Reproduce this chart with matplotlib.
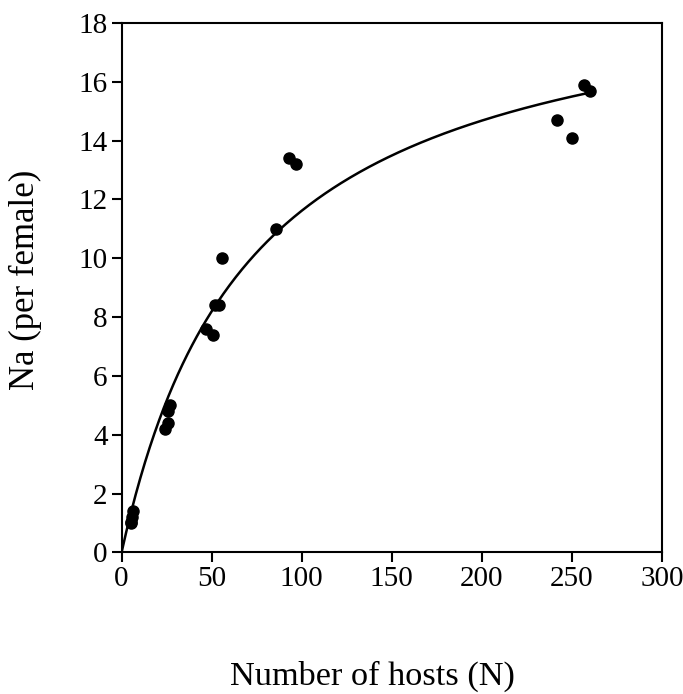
import matplotlib
matplotlib.use('Agg')
import matplotlib.pyplot as plt
import numpy as np

# data
hosts = [5, 5.5, 6, 6.5, 24, 26, 26, 27, 47, 51, 52, 54, 56, 86, 93, 97, 242, 250, 257, 260]
attacked = [1.0, 1.05, 1.2, 1.4, 4.2, 4.4, 4.8, 5.0, 7.6, 7.4, 8.4, 8.4, 10.0, 11.0, 13.4, 13.2, 14.7, 14.1, 15.9, 15.7]

# fitted type II functional response: Na = A*N / (K + N)
A = 19.94
K = 71.7

xticks = [0, 50, 100, 150, 200, 250, 300]
yticks = [0, 2, 4, 6, 8, 10, 12, 14, 16, 18]

plt.rcParams['font.family'] = ['Liberation Serif', 'DejaVu Serif']

fig = plt.figure(figsize=(6.83, 6.94), dpi=100)
ax = fig.add_axes([0.178, 0.204, 0.791, 0.763])

n = np.linspace(0, max(hosts), 300)
ax.plot(n, A * n / (K + n), color='black', lw=1.8)
ax.scatter(hosts, attacked, s=64, color='black', zorder=3)

ax.set_xlim(0, 300)
ax.set_ylim(0, 18)
ax.set_xticks(xticks)
ax.set_yticks(yticks)
ax.tick_params(direction='out', length=7, width=1.5, labelsize=21, pad=3,
               top=False, right=False)
for s in ax.spines.values():
    s.set_linewidth(1.5)

ax.set_xlabel('Number of hosts (N)', fontsize=24.7)
ax.xaxis.set_label_coords(0.464, -0.204)
ax.set_ylabel('Na (per female)', fontsize=25)
ax.yaxis.set_label_coords(-0.147, 0.515)

fig.savefig('out.png', dpi=100)
